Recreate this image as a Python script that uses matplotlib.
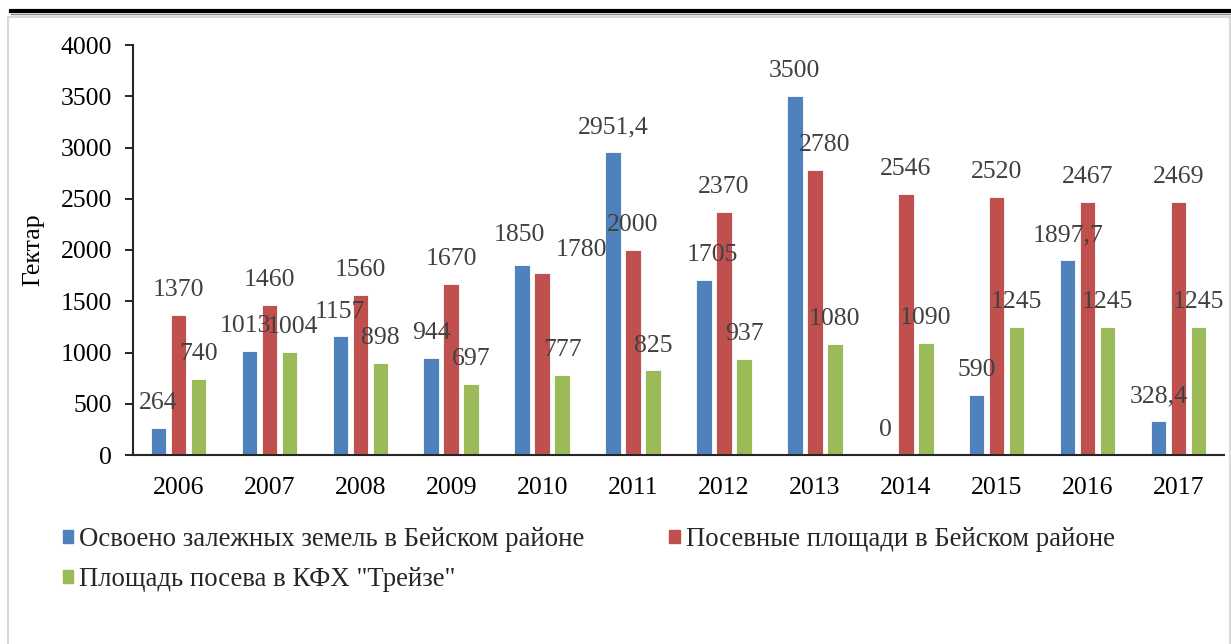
import matplotlib.pyplot as plt
import matplotlib.patches as mpatches
from matplotlib.lines import Line2D
import numpy as np

years = ["2006", "2007", "2008", "2009", "2010", "2011",
         "2012", "2013", "2014", "2015", "2016", "2017"]
osvoeno = [264, 1013, 1157, 944, 1850, 2951.4, 1705, 3500, 0, 590, 1897.7, 328.4]
posevnye = [1370, 1460, 1560, 1670, 1780, 2000, 2370, 2780, 2546, 2520, 2467, 2469]
kfh = [740, 1004, 898, 697, 777, 825, 937, 1080, 1090, 1245, 1245, 1245]

names = ['Освоено залежных земель в Бейском районе',
         'Посевные площади в Бейском районе',
         'Площадь посева в КФХ "Трейзе"']
colors = ['#4F81BD', '#C0504D', '#9BBB59']

# a few labels are nudged sideways in the original so they don't collide
nudge = {(1, 4): (28, -2), (0, 4): (-2, 4), (1, 7): (7, 0), (0, 6): (6, 0),
         (0, 1): (-3, 0), (2, 1): (2, 0)}

plt.rcParams['font.family'] = ['Liberation Serif', 'DejaVu Serif']

fig = plt.figure(figsize=(12.31, 6.44), dpi=100)

# outer frame and the heavy rule on top
fig.add_artist(Line2D([11 / 1231, 1.0], [1 - 10.5 / 644] * 2, color='black',
                      lw=3, transform=fig.transFigure))
fig.add_artist(Line2D([11 / 1231, 1.0], [1 - 13.5 / 644] * 2, color='#888888',
                      lw=1, transform=fig.transFigure))
fig.add_artist(mpatches.Rectangle((8 / 1231, -0.01), (1230 - 8) / 1231, 1 - 17 / 644 + 0.01,
                                  transform=fig.transFigure, fill=False,
                                  edgecolor='#d9d9d9', lw=1.5))

ax = fig.add_axes([133 / 1231, 1 - 455 / 644, (1224 - 133) / 1231, (455 - 45) / 644])

x = np.arange(len(years))
w = 0.17
step = 0.22
series = [osvoeno, posevnye, kfh]
for i, vals in enumerate(series):
    pos = x + (i - 1) * step
    ax.bar(pos, vals, width=w, color=colors[i], edgecolor='white',
           linewidth=0.6, label=names[i])
    for j, (p, v) in enumerate(zip(pos, vals)):
        txt = ('%g' % v).replace('.', ',')
        dx, dy = nudge.get((i, j), (0, 0))
        ax.annotate(txt, (p, v), xytext=(dx, 10 + dy), textcoords='offset points',
                    ha='center', va='bottom', fontsize=18.5, color='#404040')

ax.set_xlim(-0.5, len(years) - 0.5)
ax.set_ylim(0, 4000)
ax.set_yticks(range(0, 4001, 500))
ax.set_xticks(x)
ax.set_xticklabels(years)
ax.tick_params(axis='x', length=0, pad=16, labelsize=18.5)
ax.tick_params(axis='y', direction='out', length=6, width=1.2, pad=9, labelsize=18.5)
for s in ['top', 'right']:
    ax.spines[s].set_visible(False)
for s in ['left', 'bottom']:
    ax.spines[s].set_color('#262626')
    ax.spines[s].set_linewidth(1.5)
ax.set_ylabel('Гектар', fontsize=18.5, labelpad=12)

handles = [mpatches.Patch(color=c) for c in colors]
order = [0, 2, 1]
fig.legend([handles[k] for k in order], [names[k] for k in order],
           ncol=2, loc='upper left', bbox_to_anchor=(39 / 1231, 1 - 503 / 644),
           frameon=False, fontsize=19.3, handlelength=0.38, handleheight=0.38,
           handletextpad=0.22, columnspacing=3.17, labelspacing=0.55,
           labelcolor='#262626')

fig.savefig('out.png', dpi=100)
